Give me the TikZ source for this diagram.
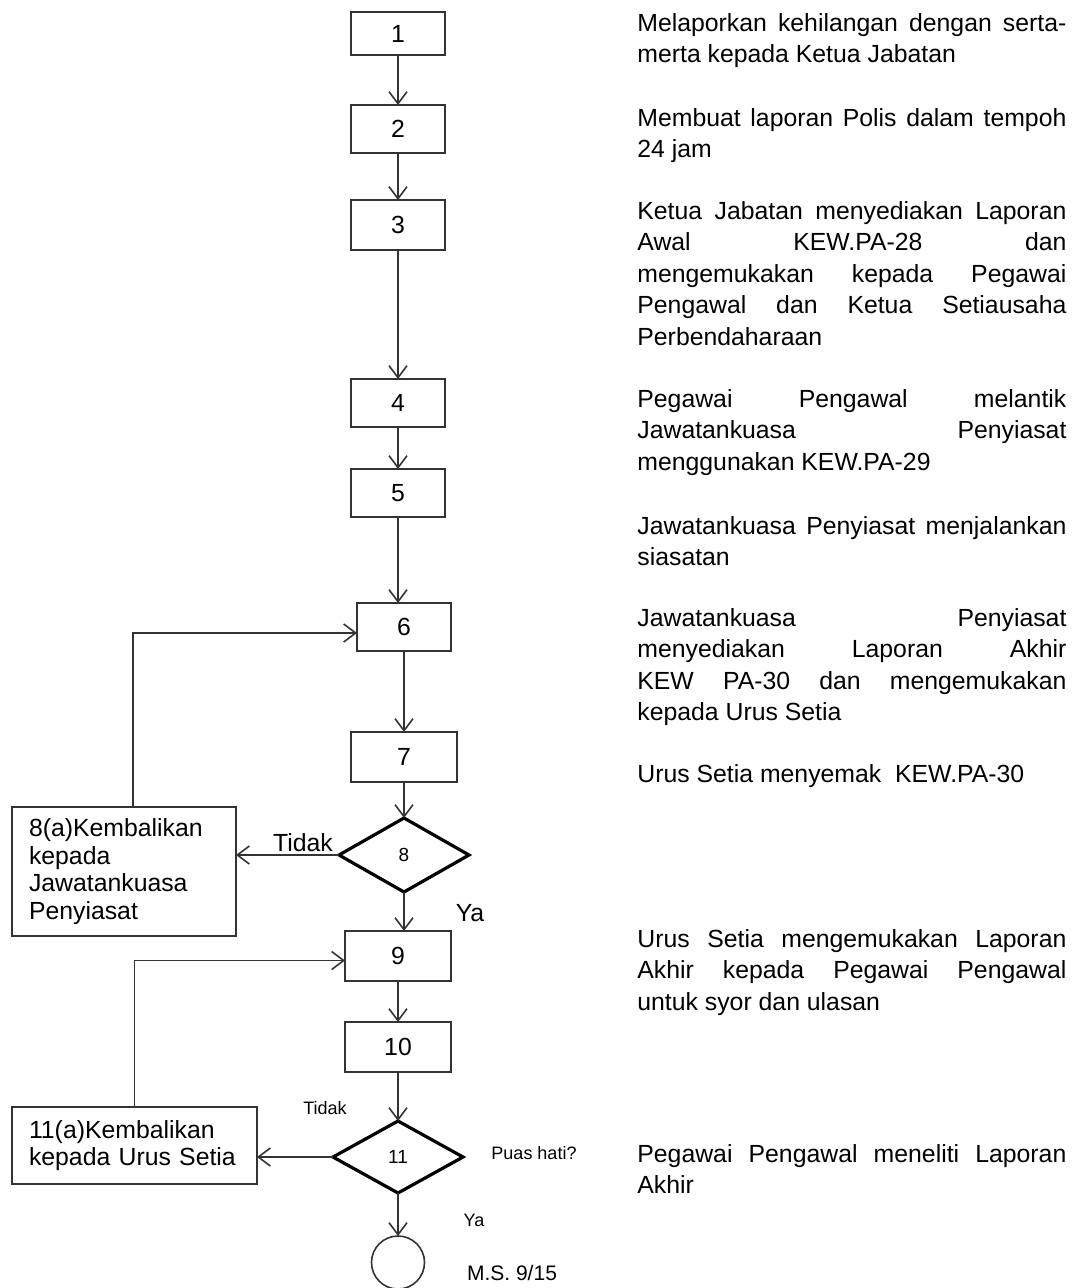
\documentclass[tikz,border=0pt]{standalone}
\usepackage{fontspec}
\setmainfont{Liberation Sans}
\usetikzlibrary{positioning,arrows.meta,shapes.geometric}
\hyphenpenalty=10000
\tolerance=10000
\hbadness=10000

\begin{document}
\begin{tikzpicture}[
        x=0.5pt, y=-0.5pt,
        box/.style={draw=black!80, line width=1pt, rectangle, inner sep=0pt, outer sep=0pt,
            minimum width=47pt, minimum height=24pt, font=\fontsize{12.4}{15}\selectfont},
        wbox/.style={box, minimum width=53pt, minimum height=25pt},
        keputusan/.style={draw=black, line width=1.6pt, diamond, aspect=1.8, inner sep=0pt,
            outer sep=0pt, minimum width=65pt, minimum height=37pt, font=\fontsize{9.5}{11}\selectfont},
        balik/.style={draw=black!80, line width=1pt, rectangle, align=left, inner xsep=8.5pt,
            inner ysep=0pt, outer sep=0pt, font=\fontsize{12.4}{13.75}\selectfont},
        desc/.style={anchor=north west, inner sep=0pt, text width=214.5pt, align=justify,
            font=\fontsize{12.4}{15.75}\selectfont},
        lbl/.style={inner sep=0pt, font=\fontsize{9}{11}\selectfont},
        blbl/.style={inner sep=0pt, font=\fontsize{12.4}{14}\selectfont},
        arr/.style={draw=black!80, line width=0.8pt, -{Straight Barb[length=6pt,width=9pt]}}
    ]
        \useasboundingbox (0,0) rectangle (1074,1288);

        \node[box, minimum height=21.5pt] (n1) at (398,33.5) {1};
        \node[box] (n2) [below=25pt of n1] {2};
        \node[box, minimum height=25pt] (n3) [below=23.5pt of n2] {3};
        \node[box] (n4) [below=64.5pt of n3] {4};
        \node[box] (n5) [below=21pt of n4] {5};
        \node[box] (n6) [below=43pt of n5, xshift=3pt] {6};
        \node[wbox] (n7) [below=40.5pt of n6] {7};
        \node[keputusan] (d8) [below=18pt of n7] {8};
        \node[wbox] (n9) [below=19.5pt of d8, xshift=-3pt] {9};
        \node[wbox] (n10) [below=20.5pt of n9] {10};
        \node[keputusan, minimum height=36pt] (d11) [below=24.5pt of n10] {11};
        \node[draw=black!80, line width=0.8pt, circle, minimum size=26.5pt, inner sep=0pt,
            outer sep=0pt] (tamat) [below=21.5pt of d11] {};

        \node[balik, text width=95pt, minimum height=64.5pt] (k8) at (124,871.5)
            {8(a)Kembalikan\\kepada\\Jawatankuasa\\Penyiasat};
        \node[balik, text width=105.5pt, minimum height=38.5pt] (k11) at (134.5,1145.5)
            {11(a)Kembalikan\\kepada Urus Setia};

        \node[blbl] (tidak8) at (303,843) {Tidak};
        \node[blbl] (ya8) at (470,913) {Ya};
        \node[lbl] (tidak11) at (325,1108) {Tidak};
        \node[lbl] (puas) at (534,1153) {Puas hati?};
        \node[lbl] (ya11) at (474,1220) {Ya};
        \node[inner sep=0pt, font=\fontsize{10.5}{12}\selectfont] (ms) at (512,1273) {M.S. 9/15};

        \draw[arr] (n1) -- (n2);
        \draw[arr] (n2) -- (n3);
        \draw[arr] (n3) -- (n4);
        \draw[arr] (n4) -- (n5);
        \draw[arr] (n5.south) -- (n5.south |- n6.north);
        \draw[arr] (n6) -- (n7);
        \draw[arr] (n7) -- (d8);
        \draw[arr] (d8.south) -- (d8.south |- n9.north);
        \draw[arr] (n9) -- (n10);
        \draw[arr] (n10) -- (d11);
        \draw[arr] (d11) -- (tamat);
        \draw[arr] (d8.west) -- (d8.west -| k8.east);
        \draw[arr] (d11.west) -- (d11.west -| k11.east);
        \draw[arr] ([xshift=4.5pt]k8.north) |- ([yshift=-3pt]n6.west);
        \draw[arr] (k11.north) |- ([yshift=-2.25pt]n9.west);

        \node[desc] (t1) at (637,13) {Melaporkan kehilangan dengan serta-\linebreak
            merta kepada Ketua Jabatan};
        \node[desc] (t2) at (637,108) {Membuat laporan Polis dalam tempoh\linebreak
            24 jam};
        \node[desc] (t3) at (637,201) {Ketua Jabatan menyediakan Laporan\linebreak
            Awal KEW.PA-28 dan\linebreak mengemukakan kepada Pegawai\linebreak
            Pengawal dan Ketua Setiausaha\linebreak Perbendaharaan};
        \node[desc] (t4) at (637,389) {Pegawai Pengawal melantik\linebreak
            Jawatankuasa Penyiasat\linebreak menggunakan KEW.PA-29};
        \node[desc] (t5) at (637,516) {Jawatankuasa Penyiasat menjalankan\linebreak
            siasatan};
        \node[desc] (t6) at (637,608) {Jawatankuasa Penyiasat\linebreak
            menyediakan Laporan Akhir\linebreak KEW PA-30 dan mengemukakan\linebreak
            kepada Urus Setia};
        \node[desc] (t7) at (637,764) {Urus Setia menyemak\ \ KEW.PA-30};
        \node[desc] (t8) at (637,929) {Urus Setia mengemukakan Laporan\linebreak
            Akhir kepada Pegawai Pengawal\linebreak untuk syor dan ulasan};
        \node[desc] (t9) at (637,1144) {Pegawai Pengawal meneliti Laporan\linebreak
            Akhir};
    \end{tikzpicture}
\end{document}
